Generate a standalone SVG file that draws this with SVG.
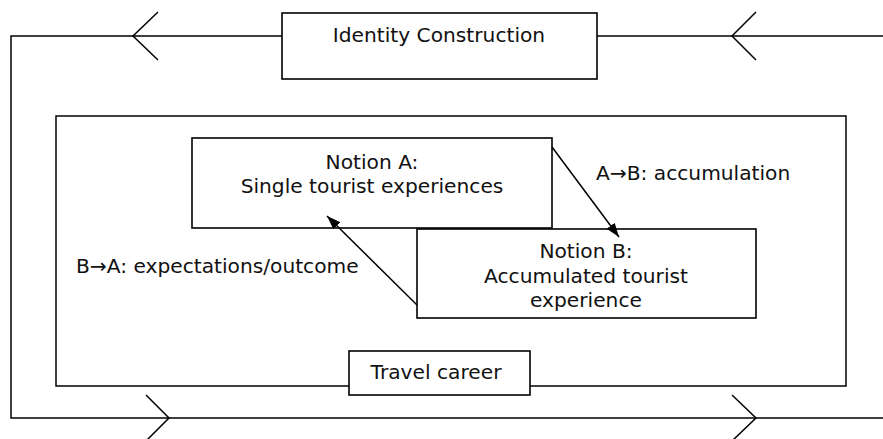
<svg xmlns="http://www.w3.org/2000/svg" width="883" height="439" viewBox="0 0 883 439">
<style>
.box{fill:#fff;stroke:#000;stroke-width:1.6}
.ln{fill:none;stroke:#000;stroke-width:1.5}
.t{font-family:"DejaVu Sans",Verdana,sans-serif;font-size:20.2px;fill:#111}
.c{text-anchor:middle}
</style>
<defs>
<marker id="ah" viewBox="0 0 14 10" refX="14" refY="5" markerWidth="14" markerHeight="10" markerUnits="userSpaceOnUse" orient="auto">
<path d="M0,0 L14,5 L0,10 Z" fill="#000"/>
</marker>
</defs>
<g id="travel-career-frame">
<rect class="ln" x="56" y="116" width="790" height="270"/>
</g>
<g id="identity">
<rect class="box" x="282" y="13" width="315" height="66"/>
<text class="t c" x="439" y="42">Identity Construction</text>
</g>
<g id="notionA">
<rect class="box" x="192" y="138" width="360" height="90"/>
<text class="t c" x="372" y="169">Notion A:</text>
<text class="t c" x="372" y="193">Single tourist experiences</text>
</g>
<g id="notionB">
<rect class="box" x="417" y="229" width="339" height="89"/>
<text class="t c" x="586" y="258">Notion B:</text>
<text class="t c" x="586" y="283">Accumulated tourist</text>
<text class="t c" x="586" y="307">experience</text>
</g>
<g id="travel-career">
<rect class="box" x="349" y="351" width="181" height="44"/>
<text class="t c" x="436" y="379">Travel career</text>
</g>
<g id="connectors">
<path class="ln" d="M282,36 H11 V418 H883"/>
<path class="ln" d="M597,36 H883"/>
<path class="ln" d="M158,12 L133,36 L158,60"/>
<path class="ln" d="M756,12 L732,36 L756,60"/>
<path class="ln" d="M146,395 L169,418 L146,441"/>
<path class="ln" d="M732,395 L756,418 L732,441"/>
<line class="ln" x1="552" y1="147" x2="619" y2="237" marker-end="url(#ah)"/>
<line class="ln" x1="417" y1="305" x2="327" y2="216" marker-end="url(#ah)"/>
<text class="t" x="596" y="180">A→B: accumulation</text>
<text class="t" x="76" y="273">B→A: expectations/outcome</text>
</g>
</svg>
